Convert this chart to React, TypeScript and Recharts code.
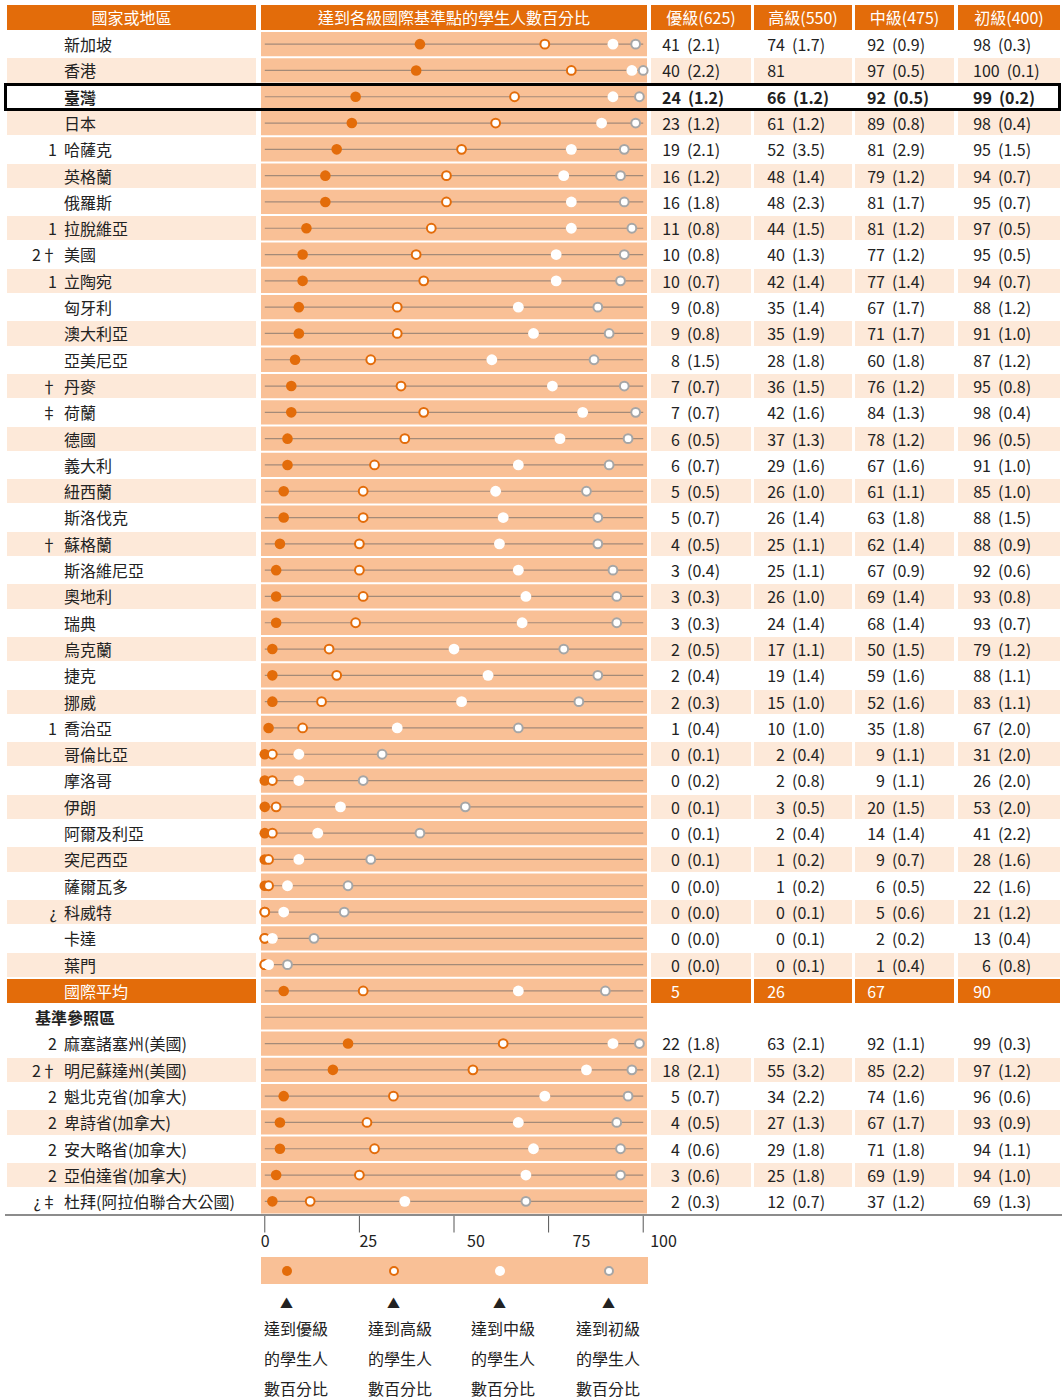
import React from 'react';
import { ScatterChart, Scatter, XAxis, YAxis, ReferenceArea, ReferenceLine } from 'recharts';

// rows: 36 countries, international average, benchmark header, 7 benchmark participants
const rowLabels = [
  '新加坡', '香港', '臺灣', '日本', '哈薩克', '英格蘭', '俄羅斯', '拉脫維亞', '美國', '立陶宛',
  '匈牙利', '澳大利亞', '亞美尼亞', '丹麥', '荷蘭', '德國', '義大利', '紐西蘭', '斯洛伐克', '蘇格蘭',
  '斯洛維尼亞', '奧地利', '瑞典', '烏克蘭', '捷克', '挪威', '喬治亞', '哥倫比亞', '摩洛哥', '伊朗',
  '阿爾及利亞', '突尼西亞', '薩爾瓦多', '科威特', '卡達', '葉門', '國際平均', '基準參照區',
  '麻塞諸塞州(美國)', '明尼蘇達州(美國)', '魁北克省(加拿大)', '卑詩省(加拿大)', '安大略省(加拿大)',
  '亞伯達省(加拿大)', '杜拜(阿拉伯聯合大公國)',
];
const rowNotes = [
  '', '', '', '', '1', '', '', '1', '2†', '1',
  '', '', '', '†', '‡', '', '', '', '', '†',
  '', '', '', '', '', '', '1', '', '', '',
  '', '', '', '¿', '', '', '', '',
  '2', '2†', '2', '2', '2', '2', '¿‡',
];

const advanced = [41, 40, 24, 23, 19, 16, 16, 11, 10, 10, 9, 9, 8, 7, 7, 6, 6, 5, 5, 4, 3, 3, 3, 2, 2, 2, 1, 0, 0, 0, 0, 0, 0, 0, 0, 0, 5, null, 22, 18, 5, 4, 4, 3, 2];
const advancedSE = [2.1, 2.2, 1.2, 1.2, 2.1, 1.2, 1.8, 0.8, 0.8, 0.7, 0.8, 0.8, 1.5, 0.7, 0.7, 0.5, 0.7, 0.5, 0.7, 0.5, 0.4, 0.3, 0.3, 0.5, 0.4, 0.3, 0.4, 0.1, 0.2, 0.1, 0.1, 0.1, 0.0, 0.0, 0.0, 0.0, null, null, 1.8, 2.1, 0.7, 0.5, 0.6, 0.6, 0.3];
const high = [74, 81, 66, 61, 52, 48, 48, 44, 40, 42, 35, 35, 28, 36, 42, 37, 29, 26, 26, 25, 25, 26, 24, 17, 19, 15, 10, 2, 2, 3, 2, 1, 1, 0, 0, 0, 26, null, 63, 55, 34, 27, 29, 25, 12];
const highSE = [1.7, null, 1.2, 1.2, 3.5, 1.4, 2.3, 1.5, 1.3, 1.4, 1.4, 1.9, 1.8, 1.5, 1.6, 1.3, 1.6, 1.0, 1.4, 1.1, 1.1, 1.0, 1.4, 1.1, 1.4, 1.0, 1.0, 0.4, 0.8, 0.5, 0.4, 0.2, 0.2, 0.1, 0.1, 0.1, null, null, 2.1, 3.2, 2.2, 1.3, 1.8, 1.8, 0.7];
const intermediate = [92, 97, 92, 89, 81, 79, 81, 81, 77, 77, 67, 71, 60, 76, 84, 78, 67, 61, 63, 62, 67, 69, 68, 50, 59, 52, 35, 9, 9, 20, 14, 9, 6, 5, 2, 1, 67, null, 92, 85, 74, 67, 71, 69, 37];
const intermediateSE = [0.9, 0.5, 0.5, 0.8, 2.9, 1.2, 1.7, 1.2, 1.2, 1.4, 1.7, 1.7, 1.8, 1.2, 1.3, 1.2, 1.6, 1.1, 1.8, 1.4, 0.9, 1.4, 1.4, 1.5, 1.6, 1.6, 1.8, 1.1, 1.1, 1.5, 1.4, 0.7, 0.5, 0.6, 0.2, 0.4, null, null, 1.1, 2.2, 1.6, 1.7, 1.8, 1.9, 1.2];
const low = [98, 100, 99, 98, 95, 94, 95, 97, 95, 94, 88, 91, 87, 95, 98, 96, 91, 85, 88, 88, 92, 93, 93, 79, 88, 83, 67, 31, 26, 53, 41, 28, 22, 21, 13, 6, 90, null, 99, 97, 96, 93, 94, 94, 69];
const lowSE = [0.3, 0.1, 0.2, 0.4, 1.5, 0.7, 0.7, 0.5, 0.5, 0.7, 1.2, 1.0, 1.2, 0.8, 0.4, 0.5, 1.0, 1.0, 1.5, 0.9, 0.6, 0.8, 0.7, 1.2, 1.1, 1.1, 2.0, 2.0, 2.0, 2.0, 2.2, 1.6, 1.6, 1.2, 0.4, 0.8, null, null, 0.3, 1.2, 0.6, 0.9, 1.1, 1.0, 1.3];

const columnHeaders = ['優級(625)', '高級(550)', '中級(475)', '初級(400)'];
const axisTicks = [0, 25, 50, 75, 100];
const legendLabels = ['達到優級', '達到高級', '達到中級', '達到初級'];

const AVG_ROW = 36;
const SECTION_ROW = 37;
const HIGHLIGHT_ROW = 2;

const DARK = '#e36c0a';
const BAND = '#f9c096';
const PEACH = '#fde9d9';
const LINE = '#a48a78';
const FONT = "'Noto Sans CJK TC', 'Noto Sans', sans-serif";

const TOP = 31;
const ROW_H = 26.3;
const rowTop = (i: number) => TOP + i * ROW_H;

const numCols = [
  { x: 651, w: 100, pad: 11 },
  { x: 754, w: 98, pad: 13 },
  { x: 855, w: 99, pad: 12 },
  { x: 958, w: 102, pad: 15 },
];

const toPoints = (vals: (number | null)[]) =>
  vals.map((v, i) => (v == null ? null : { x: v, row: i })).filter(Boolean) as { x: number; row: number }[];

const AdvDot = (p: any) => <circle cx={p.cx} cy={p.cy} r={5.3} fill={DARK} />;
const HighDot = (p: any) => <circle cx={p.cx} cy={p.cy} r={4.4} fill="#fff" stroke={DARK} strokeWidth={2} />;
const MidDot = (p: any) => <circle cx={p.cx} cy={p.cy} r={5.4} fill="#fff" />;
const LowDot = (p: any) => <circle cx={p.cx} cy={p.cy} r={4.4} fill="#fff" stroke="#a6a6a6" strokeWidth={2} />;

const tickOffsets: Record<number, number> = { 0: -4, 25: 0, 50: 13, 75: 24, 100: 7 };
const AxisTick = (p: any) => (
  <text x={p.x + (tickOffsets[p.payload.value] ?? 0)} y={p.y} dy="0.8em" textAnchor="start"
    fontSize={16} fill="#222" fontFamily={FONT}>
    {p.payload.value}
  </text>
);

const cell = (left: number, top: number, width: number, height: number, bg: string): React.CSSProperties => ({
  position: 'absolute', left, top, width, height, background: bg,
});

export default function App() {
  const rows = rowLabels.map((_, i) => i);
  const series = [advanced, high, intermediate, low];
  const ses = [advancedSE, highSE, intermediateSE, lowSE];

  return (
    <div style={{ position: 'relative', width: 1062, height: 1397, fontFamily: FONT, color: '#222', fontSize: 16 }}>
      <style>{'body{margin:0}'}</style>

      {/* header */}
      <div style={{ ...cell(7, 5, 249, 25, DARK), color: '#fff', textAlign: 'center', lineHeight: '25px' }}>國家或地區</div>
      <div style={{ ...cell(261, 5, 386, 25, DARK), color: '#fff', textAlign: 'center', lineHeight: '25px' }}>
        達到各級國際基準點的學生人數百分比
      </div>
      {numCols.map((c, k) => (
        <div key={k} style={{ ...cell(c.x, 5, c.w, 25, DARK), color: '#fff', textAlign: 'center', lineHeight: '25px' }}>
          {columnHeaders[k]}
        </div>
      ))}

      {/* row backgrounds */}
      {rows.map((i) => {
        if (i === SECTION_ROW) return null;
        const bg = i === AVG_ROW ? DARK : i % 2 === 1 ? PEACH : 'transparent';
        const t = rowTop(i) + 1;
        return (
          <React.Fragment key={'bg' + i}>
            <div style={cell(7, t, 249, ROW_H - 2, bg)} />
            {numCols.map((c, k) => <div key={k} style={cell(c.x, t, c.w, ROW_H - 2, bg)} />)}
          </React.Fragment>
        );
      })}

      {/* row texts */}
      {rows.map((i) => {
        const t = rowTop(i);
        const isAvg = i === AVG_ROW;
        const bold = i === HIGHLIGHT_ROW || i === SECTION_ROW;
        const color = isAvg ? '#fff' : '#222';
        const lh = { height: ROW_H, lineHeight: ROW_H + 'px' };
        return (
          <React.Fragment key={'tx' + i}>
            {rowNotes[i] && (
              <div style={{ position: 'absolute', right: 1062 - 57, top: t, ...lh }}>{rowNotes[i]}</div>
            )}
            <div style={{ position: 'absolute', left: i === SECTION_ROW ? 35 : 64, top: t, ...lh, color,
              fontWeight: bold ? 700 : 400, whiteSpace: 'nowrap' }}>
              {rowLabels[i]}
            </div>
            {i !== SECTION_ROW && numCols.map((c, k) => {
              const v = series[k][i];
              const se = ses[k][i];
              return (
                <div key={k} style={{ position: 'absolute', left: c.x + c.pad, top: t, ...lh, color,
                  fontWeight: i === HIGHLIGHT_ROW ? 700 : 400, whiteSpace: 'nowrap' }}>
                  <span style={{ display: 'inline-block', minWidth: 18, textAlign: 'right' }}>{v}</span>
                  {se != null && <span style={{ marginLeft: 7 }}>({se.toFixed(1)})</span>}
                </div>
              );
            })}
          </React.Fragment>
        );
      })}

      {/* dot chart */}
      <div style={{ position: 'absolute', left: 0, top: 0 }}>
        <ScatterChart width={1062} height={1262} margin={{ top: TOP, left: 261, right: 415, bottom: 7.5 }}>
          <XAxis type="number" dataKey="x" domain={[-1, 101]} ticks={axisTicks} axisLine={false}
            tickLine={{ stroke: '#555' }} tickSize={18} height={40} tick={<AxisTick />} />
          <YAxis type="number" dataKey="row" domain={[-0.5, 44.5]} reversed hide width={0} />
          {rows.map((i) => (
            <ReferenceArea key={'ra' + i} x1={-1} x2={101} y1={i - 0.462} y2={i + 0.462}
              fill={BAND} fillOpacity={1} stroke="none" />
          ))}
          {rows.map((i) => (
            <ReferenceLine key={'rl' + i} segment={[{ x: 0, y: i }, { x: 100, y: i }]}
              stroke={LINE} strokeWidth={1.2} />
          ))}
          <Scatter data={toPoints(advanced)} shape={AdvDot} isAnimationActive={false} />
          <Scatter data={toPoints(high)} shape={HighDot} isAnimationActive={false} />
          <Scatter data={toPoints(intermediate)} shape={MidDot} isAnimationActive={false} />
          <Scatter data={toPoints(low)} shape={LowDot} isAnimationActive={false} />
        </ScatterChart>
      </div>

      {/* bottom rule */}
      <div style={cell(5, 1214, 1057, 2, '#8c8c8c')} />

      {/* highlight box */}
      <div style={{ position: 'absolute', left: 4, top: 82.5, width: 1057, height: 28.5,
        border: '3px solid #000', boxSizing: 'border-box' }} />

      {/* legend */}
      <div style={cell(261, 1257, 387, 27, BAND)} />
      {[287, 394, 500, 609].map((x, k) => {
        const st: React.CSSProperties[] = [
          { background: DARK, width: 10, height: 10 },
          { background: '#fff', border: `2px solid ${DARK}`, width: 6, height: 6 },
          { background: '#fff', width: 10, height: 10 },
          { background: '#fff', border: '2px solid #a6a6a6', width: 6, height: 6 },
        ];
        return (
          <React.Fragment key={'lg' + k}>
            <div style={{ position: 'absolute', left: x - 5, top: 1265.5, borderRadius: '50%', ...st[k] }} />
            <div style={{ position: 'absolute', left: x - 7, top: 1294, fontSize: 13, lineHeight: '18px' }}>▲</div>
            <div style={{ position: 'absolute', left: [264, 368, 471, 576][k], top: 1313, lineHeight: '30px' }}>
              <div>{legendLabels[k]}</div>
              <div>的學生人</div>
              <div>數百分比</div>
            </div>
          </React.Fragment>
        );
      })}
    </div>
  );
}
